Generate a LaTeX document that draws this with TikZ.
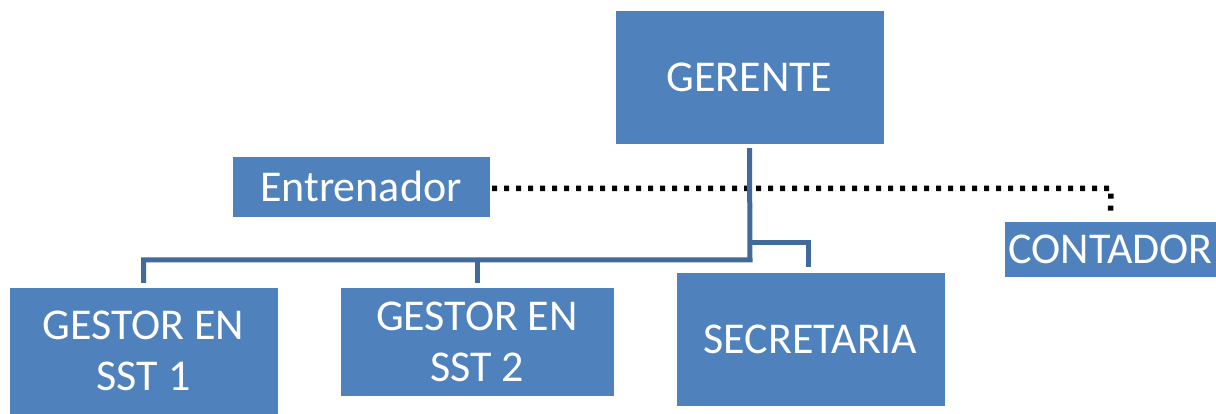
\documentclass[tikz,border=0pt]{standalone}
\usepackage{fontspec}
\setmainfont{Carlito}
\definecolor{boxblue}{HTML}{4F81BD}
\definecolor{lineblue}{HTML}{41699A}

\begin{document}
\begin{tikzpicture}[x=1pt,y=-1pt,
  cargo/.style={fill=boxblue,draw=boxblue,inner sep=0pt,text=white,align=center,font=\fontsize{44}{51}\selectfont},
  conn/.style={lineblue,line width=5pt},
  punteado/.style={black,line width=5.5pt,dash pattern=on 5pt off 7pt}]
\useasboundingbox (0,0) rectangle (1216,414);
% cajas
\node[cargo,minimum width=267pt,minimum height=132pt] (gerente) at (749.5,77) {GERENTE};
\node[cargo,minimum width=256pt,minimum height=59pt] (entrenador) at (361,186.5) {Entrenador};
\node[cargo,minimum width=211pt,minimum height=54pt] (contador) at (1110.5,249) {CONTADOR};
\node[cargo,minimum width=267pt,minimum height=126pt] (gestor1) at (143.5,351) {GESTOR EN\\SST 1};
\node[cargo,minimum width=272pt,minimum height=107pt] (gestor2) at (477,341.5) {GESTOR EN\\SST 2};
\node[cargo,minimum width=267pt,minimum height=132pt] (secretaria) at (810.5,339) {SECRETARIA};
\coordinate (barra) at (750,260); \coordinate (rama) at (750,243);
% lineas
\draw[punteado] (entrenador.east) ++(3,2) -- (1111,188.5) -- ([yshift=7pt]contador.north);
\draw[conn] ([yshift=-5pt]gerente.south) -- (barra) -| ([yshift=5pt]gestor1.north);
\draw[conn] (gestor2.north |- barra) -- ([yshift=5pt]gestor2.north);
\draw[conn] (rama) -| ([xshift=-2.5pt,yshift=6pt]secretaria.north);
\end{tikzpicture}
\end{document}
